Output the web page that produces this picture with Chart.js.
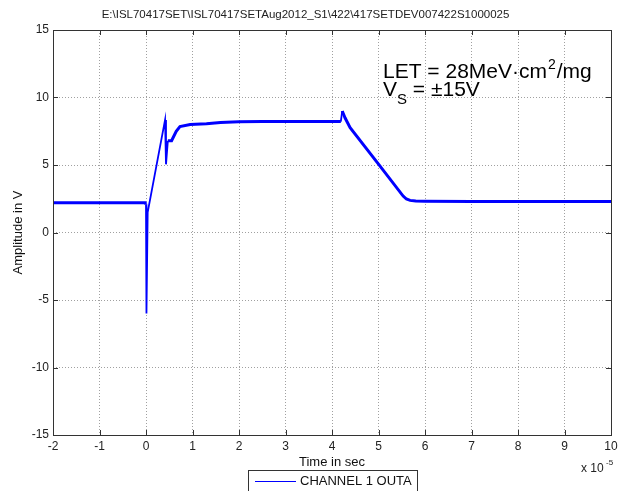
<!DOCTYPE html>
<html>
<head>
<meta charset="utf-8">
<script src="https://cdn.jsdelivr.net/npm/chart.js@4.4.0/dist/chart.umd.min.js"></script>
<style>
  html, body { margin: 0; padding: 0; background: #ffffff; }
  #wrap { position: relative; width: 627px; height: 491px; overflow: hidden; }
</style>
</head>
<body>
<div id="wrap"><canvas id="c"></canvas></div>
<script>
// Time in units of 1e-5 s
const timeE5 = [-2, -1.5, -1, -0.5, -0.02, 0, 0.01, 0.036, 0.41, 0.43, 0.47, 0.55, 0.65, 0.73, 0.95, 1.3, 1.6, 2, 2.5, 3, 3.5, 4.0, 4.19, 4.22, 4.28, 4.39, 5.0, 5.53, 5.6, 5.68, 5.8, 6, 7, 8, 9, 10];
// Amplitude in V
const amplitudeV = [2.2, 2.2, 2.2, 2.2, 2.2, 2.1, -6.0, 1.5, 8.34, 5.05, 6.8, 6.8, 7.5, 7.85, 8.0, 8.05, 8.14, 8.2, 8.22, 8.22, 8.22, 8.22, 8.22, 9.0, 8.5, 7.77, 5.06, 2.7, 2.48, 2.38, 2.33, 2.32, 2.3, 2.3, 2.3, 2.3];
const xTickValues = [-2, -1, 0, 1, 2, 3, 4, 5, 6, 7, 8, 9, 10];
const yTickValues = [-15, -10, -5, 0, 5, 10, 15];
const seriesLabel = 'CHANNEL 1 OUTA';
const titleText = 'E:\\ISL70417SET\\ISL70417SETAug2012_S1\\422\\417SETDEV007422S1000025';

const FONT = 'Liberation Sans, Arial, Helvetica, sans-serif';

const points = timeE5.map((t, i) => ({ x: t, y: amplitudeV[i] }));

const boxPlugin = {
  id: 'matlabBox',
  afterDraw(chart) {
    const { ctx, chartArea: a, scales } = chart;
    const xs = scales.x, ys = scales.y;
    ctx.save();
    ctx.strokeStyle = '#333333';
    ctx.lineWidth = 1;
    ctx.setLineDash([]);
    ctx.strokeRect(Math.round(a.left) + 0.5, Math.round(a.top) + 0.5,
                   Math.round(a.right - a.left), Math.round(a.bottom - a.top));
    ctx.beginPath();
    const tl = 5;
    xTickValues.forEach(v => {
      const px = Math.round(xs.getPixelForValue(v)) + 0.5;
      ctx.moveTo(px, a.bottom); ctx.lineTo(px, a.bottom - tl);
      ctx.moveTo(px, a.top); ctx.lineTo(px, a.top + tl);
    });
    yTickValues.forEach(v => {
      const py = Math.round(ys.getPixelForValue(v)) + 0.5;
      ctx.moveTo(a.left, py); ctx.lineTo(a.left + tl, py);
      ctx.moveTo(a.right, py); ctx.lineTo(a.right - tl, py);
    });
    ctx.stroke();

    // exponent label
    ctx.fillStyle = '#222222';
    ctx.textBaseline = 'alphabetic';
    ctx.textAlign = 'left';
    ctx.font = '12px ' + FONT;
    ctx.fillText('x 10', 581, 472);
    ctx.font = '8px ' + FONT;
    ctx.fillText('-5', 606, 465);

    // annotation
    ctx.fillStyle = '#000000';
    let x = 383;
    ctx.font = '21px ' + FONT;
    const s1 = 'LET = 28MeV\u00B7cm';
    ctx.fillText(s1, x, 78);
    x += ctx.measureText(s1).width + 1;
    ctx.font = '14px ' + FONT;
    ctx.fillText('2', x, 69);
    x += ctx.measureText('2').width + 1;
    ctx.font = '21px ' + FONT;
    ctx.fillText('/mg', x, 78);

    x = 383;
    ctx.fillText('V', x, 96);
    x += ctx.measureText('V').width;
    ctx.font = '15px ' + FONT;
    ctx.fillText('S', x, 104);
    x += ctx.measureText('S').width;
    ctx.font = '21px ' + FONT;
    ctx.fillText(' = \u00B115V', x, 96);

    // legend
    ctx.strokeStyle = '#333333';
    ctx.lineWidth = 1;
    ctx.strokeRect(248.5, 470.5, 169, 30);
    ctx.strokeStyle = chart.data.datasets[0].borderColor;
    ctx.beginPath();
    ctx.moveTo(255, 481.5); ctx.lineTo(296, 481.5);
    ctx.stroke();
    ctx.fillStyle = '#111111';
    ctx.font = '13px ' + FONT;
    ctx.textBaseline = 'middle';
    ctx.fillText(chart.data.datasets[0].label, 300, 481);
    ctx.restore();
  }
};

new Chart(document.getElementById('c'), {
  type: 'line',
  data: {
    datasets: [{
      label: seriesLabel,
      data: points,
      borderColor: '#0000ff',
      borderWidth: 3,
      pointRadius: 0,
      tension: 0,
      fill: false,
      segment: {
        borderWidth: ctx => {
          const dx = Math.abs(ctx.p1.x - ctx.p0.x);
          const dy = Math.abs(ctx.p1.y - ctx.p0.y);
          return dy > 3 * Math.max(dx, 0.001) ? 1.8 : 3;
        }
      }
    }]
  },
  options: {
    responsive: true,
    maintainAspectRatio: false,
    animation: false,
    layout: { padding: { left: 0, right: 16, top: 0, bottom: 0 } },
    plugins: {
      legend: { display: false },
      tooltip: { enabled: false },
      title: {
        display: true,
        text: titleText,
        color: '#222222',
        font: { family: FONT, size: 11.5, weight: 'normal' },
        padding: { top: 8, bottom: 8.2 }
      }
    },
    scales: {
      x: {
        type: 'linear',
        min: -2, max: 10,
        afterFit: s => { s.height = 56; },
        afterBuildTicks: s => { s.ticks = xTickValues.map(v => ({ value: v })); },
        ticks: { color: '#222222', font: { family: FONT, size: 12 }, padding: 4, maxRotation: 0, autoSkip: false },
        grid: { color: '#a0a0a0', lineWidth: 1, drawTicks: false },
        border: { display: false, dash: [1, 2] },
        title: { display: true, text: 'Time in sec', color: '#111111', font: { family: FONT, size: 13 }, padding: { top: 0, bottom: 21 } }
      },
      y: {
        type: 'linear',
        min: -15, max: 15,
        afterFit: s => { s.width = 53; },
        afterBuildTicks: s => { s.ticks = yTickValues.map(v => ({ value: v })); },
        ticks: { color: '#222222', font: { family: FONT, size: 12 }, padding: 4 },
        grid: { color: '#a0a0a0', lineWidth: 1, drawTicks: false },
        border: { display: false, dash: [1, 2] },
        title: { display: true, text: 'Amplitude in V', color: '#111111', font: { family: FONT, size: 13 }, padding: { top: 11, bottom: 0 } }
      }
    }
  },
  plugins: [boxPlugin]
});
</script>
</body>
</html>
